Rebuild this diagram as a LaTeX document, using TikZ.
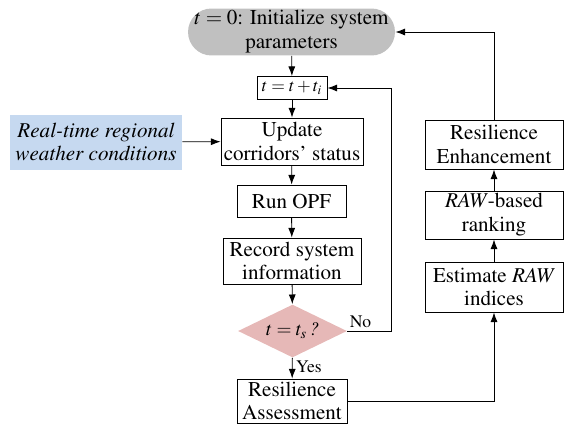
\documentclass[tikz,border=0pt]{standalone}
\usepackage[T1]{fontenc}
\usepackage{mathptmx}
\usepackage{tikz}
\usetikzlibrary{shapes.geometric,arrows.meta}
\usepackage{xcolor}
\definecolor{initgray}{RGB}{192,192,192}
\definecolor{weatherblue}{RGB}{198,217,240}
\definecolor{checkpink}{RGB}{230,184,183}

\begin{document}
\begin{tikzpicture}[x = 0.02cm, y = -0.02cm, line width = 0.5pt,
  every node/.style = {font = \fontsize{12}{13.6}\selectfont, align = center, inner sep = 0pt},
  box/.style = {draw, minimum height = 0.92cm},
  arr/.style = {-{Latex[length = 5.5pt, width = 4pt]}}]
\useasboundingbox (0,0) rectangle (564,430);
\node[fill = initgray, rounded corners = 0.47cm, minimum width = 4.14cm, minimum height = 0.94cm] (init) at (291.5,32) {$t = 0$: Initialize system\\parameters};
\node[box, minimum width = 1.4cm, minimum height = 0.46cm, font = \fontsize{10}{11}\selectfont] (tstep) at (292,88) {$t = t + t_i$};
\node[box, minimum width = 2.84cm, minimum height = 0.94cm] (update) at (292,141.5) {Update\\corridors' status};
\node[fill = weatherblue, minimum width = 3.44cm, minimum height = 1.1cm, font = \fontsize{12}{13.6}\selectfont\itshape] (weather) at (96,142) {Real-time regional\\weather conditions};
\node[box, minimum width = 2.18cm, minimum height = 0.64cm] (opf) at (291.5,201) {Run OPF};
\node[box, minimum width = 2.76cm] (record) at (292,261) {Record system\\information};
\node[diamond, fill = checkpink, minimum width = 2.18cm, minimum height = 1.06cm, aspect = 2.06, font = \fontsize{11}{12}\selectfont] (check) at (292.5,331) {$t = t_s\,$\textit{?}};
\node[box, minimum width = 2.2cm, minimum height = 0.88cm] (assess) at (292,401) {Resilience\\Assessment};
\node[box, minimum width = 2.76cm, minimum height = 1cm] (estimate) at (494,287) {Estimate \textit{RAW}\\indices};
\node[box, minimum width = 2.76cm, minimum height = 0.96cm] (rank) at (494,215) {\textit{RAW}-based\\ranking};
\node[box, minimum width = 2.76cm, minimum height = 0.98cm] (enhance) at (494,144.5) {Resilience\\Enhancement};
\coordinate (back) at (391,331);
\draw[arr] (init) -- (tstep);
\draw[arr] (tstep) -- (update);
\draw[arr] (weather) -- (update);
\draw[arr] (update) -- (opf);
\draw[arr] (opf) -- (record);
\draw[arr] (record) -- (check);
\draw[arr] (check) -- node[right = 2pt, pos = 0.45, font = \fontsize{10}{11}\selectfont] (yes) {Yes} (assess);
\draw[arr] (check.east) -- node[above = 1.5pt, pos = 0.3, font = \fontsize{10}{11}\selectfont] (no) {No} (back) |- (tstep.east);
\draw[arr] (assess.east) -| (estimate.south);
\draw[arr] (estimate) -- (rank);
\draw[arr] (rank) -- (enhance);
\draw[arr] (enhance.north) |- (init.east);
\end{tikzpicture}
\end{document}
